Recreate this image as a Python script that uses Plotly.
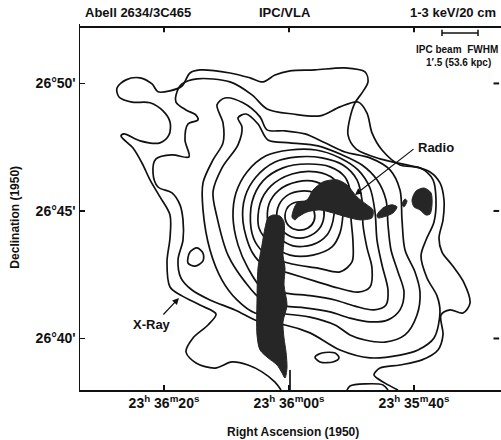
import plotly.graph_objects as go

# Coordinates: RA offset from 23h36m00s in seconds of time (east = positive),
# Dec offset from 26d45' in arcmin.

# Outermost X-ray contour (runs off the bottom edge)
c1_ra = [1.28, 2.24, 4.32, 6.56, 9.12, 11.84, 14.88, 16.48, 15.36, 12.96, 11.68, 14.24, 17.12, 19.04,
         19.52, 19.04, 19.04, 20.64, 22.24, 23.52, 24.96, 26.88, 26.4, 23.84, 20.64, 19.2, 19.04, 20.16,
         22.24, 25.12, 27.2, 27.52, 26.08, 23.84, 21.92, 20.96, 19.04, 17.12, 15.84, 14.24, 9.44, 6.24,
         4.16, 2.24, -0.16, -4.16, -8.96, -12.16, -12.64, -11.68, -10.56, -9.76, -9.44, -10.72, -14.56,
         -19.68, -22.56, -24.16, -24.8, -24.64, -24.0, -24.48, -26.08, -28.0, -28.96, -27.84, -25.76,
         -24.32, -24.64, -23.84, -21.28, -17.76, -14.56, -13.6, -15.36, -17.44]
c1_dec = [-7.02, -6.71, -6.31, -6.04, -5.92, -6.16, -5.96, -5.53, -4.98, -4.47, -4.04, -3.69, -3.33, -2.98,
          -2.0, -1.06, -0.16, 0.55, 1.22, 1.88, 2.47, 2.94, 3.02, 2.75, 2.67, 2.98, 3.49, 3.92,
          4.24, 4.27, 4.47, 4.82, 5.14, 5.22, 4.98, 4.67, 4.71, 4.90, 5.41, 5.53, 5.41, 5.22,
          5.06, 5.33, 5.49, 5.53, 5.61, 5.45, 5.06, 4.63, 4.24, 3.65, 2.98, 2.43, 2.04,
          1.76, 1.53, 1.10, 0.43, -0.35, -1.06, -1.61, -2.12, -2.82, -3.61, -4.0, -3.88,
          -4.08, -4.86, -5.45, -5.84, -6.04, -6.16, -6.43, -6.75, -7.02]

c2_ra = [17.92, 17.12, 14.72, 9.44, 5.92, 3.52, -0.64, -4.96, -8.16, -11.04, -12.48, -13.28, -14.88,
         -17.76, -20.96, -23.04, -23.52, -23.2, -21.92, -21.12, -22.08, -23.68, -24.16, -23.2, -20.64,
         -17.76, -12.96, -8.16, -3.36, 0.64, 4.64, 8.64, 12.64, 15.52, 17.28, 17.76, 16.96, 16.96, 17.44,
         18.72, 20.96, 21.76, 21.28, 18.72, 16.0, 16.64, 16.16, 14.56, 14.88, 16.48, 18.08, 17.92]
c2_dec = [4.67, 4.98, 5.18, 5.06, 4.55, 4.0, 3.80, 3.73, 4.08, 4.27, 3.84, 3.06, 2.39,
          1.80, 1.69, 1.22, 0.43, -0.43, -1.14, -1.76, -2.63, -3.33, -3.96, -4.98, -5.45,
          -5.65, -5.76, -5.45, -4.78, -4.47, -4.35, -3.88, -3.49, -3.10, -2.63, -1.92, -1.14, -0.35, 0.24,
          0.71, 0.94, 1.49, 2.04, 2.20, 2.12, 2.78, 3.41, 3.57, 3.76, 3.96, 4.27, 4.67]

c3_ra = [13.76, 13.76, 12.16, 10.56, 10.56, 11.52, 10.24, 7.36, 4.64, 3.52, 0.64, -2.56, -5.76, -8.96,
         -12.96, -16.16, -17.76, -18.08, -18.56, -20.16, -20.96, -20.48, -18.56, -15.36, -12.16, -9.76,
         -7.36, -3.36, 0.64, 5.44, 8.32, 10.72, 12.64, 13.76]
c3_dec = [0.04, 1.10, 2.0, 2.67, 3.45, 4.16, 4.43, 4.24, 3.69, 3.18, 3.14, 3.02, 2.67, 2.31,
          2.08, 1.61, 0.82, -0.35, -1.53, -2.39, -3.18, -4.08, -4.86, -5.14, -5.06, -4.86,
          -4.47, -4.16, -4.04, -4.0, -3.49, -2.71, -1.53, 0.04]

c4_ra = [11.52, 12.16, 10.72, 8.16, 7.52, 8.16, 6.88, 4.96, 3.36, -0.16, -4.64, -8.48, -11.68, -14.08,
         -15.52, -15.84, -16.32, -17.44, -18.4, -17.76, -15.84, -12.96, -9.76, -6.56, -2.56, 0.64, 4.32,
         7.04, 9.76, 11.52]
c4_dec = [-0.24, 0.75, 1.69, 2.59, 3.29, 3.65, 3.80, 3.41, 2.78, 2.67, 2.55, 2.20, 1.80, 1.22,
          0.43, -0.55, -1.53, -2.39, -3.18, -3.88, -4.27, -4.35, -4.20, -3.96, -3.80, -3.73, -3.49,
          -2.78, -1.73, -0.24]

c5_ra = [8.96, 8.48, 6.72, 3.68, -0.16, -4.32, -8.16, -11.04, -12.96, -13.76, -14.08, -14.88, -15.84,
         -15.52, -13.6, -10.56, -7.36, -3.68, 0.64, 4.32, 6.56, 8.16, 8.96]
c5_dec = [-0.24, 0.71, 1.53, 2.16, 2.39, 2.39, 2.08, 1.61, 0.90, -0.04, -1.14, -2.12, -3.10,
          -3.69, -3.88, -3.73, -3.49, -3.33, -3.22, -3.02, -2.24, -1.33, -0.24]

c6_ra = [7.36, 7.04, 5.28, 2.24, -1.44, -5.28, -8.64, -10.88, -11.68, -11.84, -12.48, -13.28, -12.96,
         -11.04, -7.84, -4.16, 0.16, 3.84, 5.92, 7.36]
c6_dec = [-0.43, 0.55, 1.33, 1.92, 2.12, 2.08, 1.80, 1.22, 0.43, -0.55, -1.45, -2.24, -2.98,
          -3.18, -3.02, -2.75, -2.43, -2.16, -1.61, -0.43]

c7_ra = [6.08, 5.92, 4.16, 0.96, -2.88, -6.56, -8.96, -9.92, -9.92, -10.24, -10.08, -8.16, -4.64,
         -0.48, 3.04, 5.12, 6.08]
c7_dec = [-0.67, 0.35, 1.18, 1.69, 1.84, 1.73, 1.33, 0.63, -0.27, -1.22, -2.0, -2.39, -2.24,
          -2.08, -1.80, -1.33, -0.67]

c8_ra = [4.8, 4.64, 2.88, -0.48, -4.32, -7.2, -8.64, -8.64, -8.16, -6.88, -3.84, -0.16, 2.72, 4.8]
c8_dec = [-0.67, 0.27, 0.98, 1.45, 1.53, 1.25, 0.67, -0.12, -0.86, -1.41, -1.73, -1.73, -1.33, -0.67]

c9_ra = [3.36, 3.2, 1.6, -1.28, -4.32, -6.4, -7.2, -7.04, -6.08, -3.68, -0.64, 1.76, 3.36]
c9_dec = [-0.43, 0.27, 0.82, 1.14, 1.14, 0.82, 0.24, -0.39, -0.94, -1.33, -1.37, -1.02, -0.43]

c10_ra = [1.92, 1.6, 0.16, -1.92, -4.0, -5.28, -5.6, -4.8, -2.88, -0.48, 1.12, 1.92]
c10_dec = [-0.31, 0.24, 0.63, 0.78, 0.71, 0.31, -0.20, -0.71, -1.02, -1.02, -0.75, -0.31]

c11_ra = [0.64, 0.16, -1.28, -3.04, -4.0, -4.0, -3.04, -1.44, 0.0, 0.64]
c11_dec = [-0.24, 0.16, 0.35, 0.31, 0.0, -0.39, -0.67, -0.75, -0.59, -0.24]

# small closed islands
isl1_ra = [16.16, 15.84, 14.72, 13.76, 13.76, 15.04, 16.16]
isl1_dec = [-2.04, -1.61, -1.45, -1.65, -1.96, -2.16, -2.04]
isl2_ra = [-4.16, -5.28, -7.36, -8.0, -7.04, -4.96, -4.16]
isl2_dec = [-5.73, -5.57, -5.57, -5.76, -5.92, -5.92, -5.73]
# contour pieces at the bottom edge
edge1_ra = [-9.28, -9.76, -12.16, -15.04, -15.84]
edge1_dec = [-7.02, -6.86, -6.78, -6.82, -7.02]
edge2_ra = [-0.16, -0.16]
edge2_dec = [-6.24, -7.02]

# VLA 20 cm radio source (filled)
jet_ra = [3.36, 2.56, 1.44, 0.8, 0.8, 0.96, 0.64, 0.8, 0.32, 0.96, 0.8, 0.48, 0.32, 0.64, 1.12, 1.92,
          3.36, 4.64, 5.12, 5.12, 4.96, 4.32, 3.84, 3.36]
jet_dec = [-0.27, -0.16, -0.20, -0.43, -1.14, -1.73, -2.24, -2.90, -3.69, -4.35, -4.98, -5.53, -6.16,
           -6.55, -6.35, -6.04, -5.76, -5.45, -4.86, -3.49, -2.24, -1.33, -0.67, -0.27]
lobe_ra = [-0.48, -1.28, -2.88, -3.84, -5.44, -7.68, -9.28, -10.88, -12.48, -13.44, -13.28, -11.36,
           -9.28, -7.04, -4.96, -2.88, -1.44, -0.96, -0.48]
lobe_dec = [-0.24, 0.31, 0.43, 0.82, 1.14, 1.22, 1.02, 0.55, 0.24, 0.04, -0.27, -0.35,
            -0.24, -0.08, 0.04, -0.04, -0.24, -0.35, -0.24]
knot1_ra = [-14.08, -15.04, -16.48, -17.28, -16.64, -15.04, -14.24, -14.08]
knot1_dec = [-0.16, 0.12, 0.24, 0.16, -0.08, -0.24, -0.27, -0.16]
knot2_ra = [-18.08, -18.56, -18.88, -18.4, -18.08]
knot2_dec = [0.24, 0.47, 0.39, 0.16, 0.24]
knot3_ra = [-19.68, -20.32, -21.6, -22.72, -22.88, -22.56, -21.92, -20.96, -20.0, -19.68]
knot3_dec = [0.43, 0.78, 0.90, 0.71, 0.24, -0.12, -0.16, 0.04, 0.16, 0.43]

ra_ticks = [20, 0, -20]
ra_labels = ["23<sup>h</sup> 36<sup>m</sup>20<sup>s</sup>",
             "23<sup>h</sup> 36<sup>m</sup>00<sup>s</sup>",
             "23<sup>h</sup> 35<sup>m</sup>40<sup>s</sup>"]
dec_ticks = [5, 0, -5]
dec_labels = ["26°50'", "26°45'", "26°40'"]
ra_range = [33.44, -33.92]
dec_range = [-7.02, 7.33]

FONT = "Liberation Sans"
INK = "#111111"
fig = go.Figure()

contours = [(c1_ra, c1_dec), (c2_ra, c2_dec), (c3_ra, c3_dec), (c4_ra, c4_dec), (c5_ra, c5_dec),
            (c6_ra, c6_dec), (c7_ra, c7_dec), (c8_ra, c8_dec), (c9_ra, c9_dec), (c10_ra, c10_dec),
            (c11_ra, c11_dec), (isl1_ra, isl1_dec), (isl2_ra, isl2_dec), (edge1_ra, edge1_dec),
            (edge2_ra, edge2_dec)]
for xs, ys in contours:
    fig.add_trace(go.Scatter(x=xs, y=ys, mode="lines",
                             line=dict(color=INK, width=1.7, shape="spline", smoothing=0.9),
                             hoverinfo="skip", showlegend=False))

for xs, ys in [(jet_ra, jet_dec), (lobe_ra, lobe_dec), (knot1_ra, knot1_dec),
               (knot2_ra, knot2_dec), (knot3_ra, knot3_dec)]:
    fig.add_trace(go.Scatter(x=xs, y=ys, mode="lines", fill="toself", fillcolor="#262626",
                             line=dict(color="#262626", width=1, shape="spline", smoothing=0.8),
                             hoverinfo="skip", showlegend=False))

# plot frame: top edge and ticks on the top and right sides as line traces
top_y = dec_range[1] - 0.12
right_x = ra_range[1] + 0.3
frame_x = [ra_range[0], ra_range[1]]
frame_y = [top_y, top_y]
for tv in ra_ticks:
    frame_x += [None, tv, tv]
    frame_y += [None, top_y, top_y - 0.2]
for tv in dec_ticks:
    frame_x += [None, right_x, right_x + 0.9]
    frame_y += [None, tv, tv]
fig.add_trace(go.Scatter(x=frame_x, y=frame_y, mode="lines", line=dict(color=INK, width=2),
                         cliponaxis=False, hoverinfo="skip", showlegend=False))

ann_font = dict(family=FONT, size=13, color=INK, weight="bold")
fig.add_annotation(x=-10.56, y=0.63, ax=-20.16, ay=2.47, axref="x", ayref="y", xref="x", yref="y",
                   text="", showarrow=True, arrowhead=2, arrowsize=1.1, arrowwidth=1.2, arrowcolor=INK)
fig.add_annotation(x=-20.3, y=2.47, xref="x", yref="y", text="Radio", showarrow=False,
                   xanchor="left", yanchor="middle", font=ann_font)
fig.add_annotation(x=17.6, y=-3.41, ax=20.32, ay=-4.12, axref="x", ayref="y", xref="x", yref="y",
                   text="", showarrow=True, arrowhead=2, arrowsize=1.1, arrowwidth=1.2, arrowcolor=INK)
fig.add_annotation(x=21.92, y=-4.47, xref="x", yref="y", text="X-Ray", showarrow=False,
                   xanchor="center", yanchor="middle", font=ann_font)

# header texts
hdr = dict(family=FONT, size=13, color=INK, weight="bold")
fig.add_annotation(x=0.138, y=1.032, xref="paper", yref="paper", text="Abell 2634/3C465",
                   showarrow=False, xanchor="center", yanchor="middle", font=hdr)
fig.add_annotation(x=0.486, y=1.032, xref="paper", yref="paper", text="IPC/VLA",
                   showarrow=False, xanchor="center", yanchor="middle", font=hdr)
fig.add_annotation(x=0.992, y=1.032, xref="paper", yref="paper", text="1-3 keV/20 cm",
                   showarrow=False, xanchor="right", yanchor="middle", font=hdr)

# beam size bar
beam_x0, beam_x1, beam_y = -24.48, -30.24, 6.98
fig.add_shape(type="line", x0=beam_x0, x1=beam_x1, y0=beam_y, y1=beam_y, xref="x", yref="y",
              line=dict(color=INK, width=1.5))
for bx in (beam_x0, beam_x1):
    fig.add_shape(type="line", x0=bx, x1=bx, y0=beam_y - 0.12, y1=beam_y + 0.12, xref="x", yref="y",
                  line=dict(color=INK, width=1.5))
small = dict(family=FONT, size=10, color=INK, weight="bold")
fig.add_annotation(x=0.998, y=0.929, xref="paper", yref="paper", text="IPC beam  FWHM",
                   showarrow=False, xanchor="right", yanchor="middle", font=small)
fig.add_annotation(x=0.982, y=0.896, xref="paper", yref="paper", text="1\u2032.5 (53.6 kpc)",
                   showarrow=False, xanchor="right", yanchor="middle", font=small)

# axis titles
fig.add_annotation(x=-0.155, y=0.473, xref="paper", yref="paper", text="Declination (1950)",
                   textangle=-90, showarrow=False, xanchor="center", yanchor="middle",
                   font=dict(family=FONT, size=12, color=INK, weight="bold"))
fig.add_annotation(x=0.506, y=-0.115, xref="paper", yref="paper", text="Right Ascension (1950)",
                   showarrow=False, xanchor="center", yanchor="middle",
                   font=dict(family=FONT, size=12, color=INK, weight="bold"))

axis_common = dict(showgrid=False, zeroline=False, showline=True, linecolor=INK, linewidth=1.5,
                   ticks="inside", ticklen=5, tickwidth=1.5, tickcolor=INK,
                   tickfont=dict(family=FONT, size=14, color=INK, weight="bold"))
fig.update_layout(
    xaxis=dict(range=ra_range, tickvals=ra_ticks, ticktext=ra_labels, **axis_common),
    yaxis=dict(range=dec_range, tickvals=dec_ticks, ticktext=dec_labels, **axis_common),
)

fig.update_layout(width=501, height=440, margin=dict(l=80, r=0, t=24, b=50),
                  plot_bgcolor="white", paper_bgcolor="white", showlegend=False)
fig.write_html("out.html", config={"displayModeBar": False, "staticPlot": True},
               post_script="document.body.style.margin='0px';document.body.style.overflow='hidden';")
